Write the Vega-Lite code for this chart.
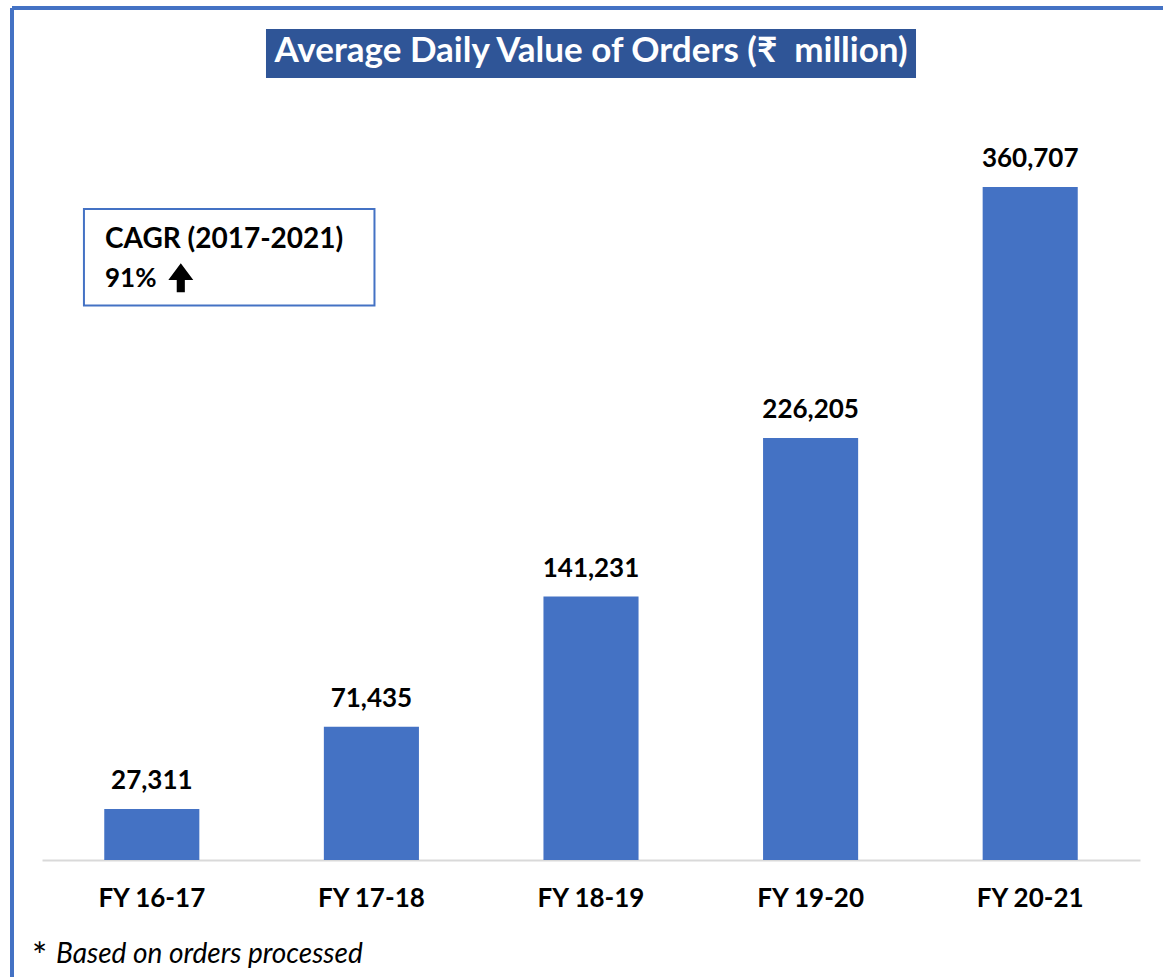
{
  "$schema": "https://vega.github.io/schema/vega-lite/v6.json",
  "width": 1098,
  "height": 860,
  "autosize": {"type": "none"},
  "padding": {"left": 42, "right": 23, "top": 0, "bottom": 117},
  "background": "white",
  "config": {"view": {"stroke": null}, "font": "Lato"},
  "resolve": {"scale": {"x": "independent", "y": "independent"}},
  "layer": [
    {
      "data": {"values": [
        {"year": "FY 16-17", "value": 27311},
        {"year": "FY 17-18", "value": 71435},
        {"year": "FY 18-19", "value": 141231},
        {"year": "FY 19-20", "value": 226205},
        {"year": "FY 20-21", "value": 360707}
      ]},
      "encoding": {
        "x": {"field": "year", "type": "nominal", "sort": null,
              "scale": {"paddingInner": 0.567, "paddingOuter": 0.2835},
              "axis": {"title": null, "ticks": false, "domainColor": "#d9d9d9", "domainWidth": 2,
                       "labelFont": "Lato", "labelFontSize": 26, "labelFontWeight": "bold", "labelColor": "#000000",
                       "labelPadding": 46, "labelBaseline": "alphabetic", "labelAngle": 0, "grid": false}},
        "y": {"field": "value", "type": "quantitative",
              "scale": {"domain": [0, 461000], "nice": false, "zero": false},
              "axis": null}
      },
      "layer": [
        {"mark": {"type": "bar", "color": "#4472C4"}},
        {"mark": {"type": "text", "baseline": "alphabetic", "dy": -20, "font": "Lato", "fontSize": 26, "fontWeight": "bold", "color": "#000000"},
         "encoding": {"text": {"field": "value", "type": "quantitative", "format": ","}}}
      ]
    },
    {
      "data": {"values": [{}]},
      "layer": [
        {"mark": {"type": "rect", "color": "#2F5597"},
         "encoding": {
           "x": {"datum": 1.02, "type": "quantitative", "scale": {"domain": [0, 5], "nice": false, "zero": false}, "axis": null},
           "x2": {"datum": 3.98},
           "y": {"datum": 445458, "type": "quantitative", "scale": {"domain": [0, 461000], "nice": false, "zero": false}, "axis": null},
           "y2": {"datum": 419191}
         }},
        {"mark": {"type": "text", "align": "center", "baseline": "alphabetic", "font": "Lato", "fontSize": 35, "fontWeight": "bold", "color": "white", "text": "Average Daily Value of Orders (₹\u00a0 million)"},
         "encoding": {
           "x": {"datum": 2.5, "type": "quantitative", "scale": {"domain": [0, 5], "nice": false, "zero": false}, "axis": null},
           "y": {"datum": 427500, "type": "quantitative", "scale": {"domain": [0, 461000], "nice": false, "zero": false}, "axis": null}
         }},
        {"mark": {"type": "rect", "fill": "white", "stroke": "#4472C4", "strokeWidth": 2},
         "encoding": {
           "x": {"datum": 0.191, "type": "quantitative", "scale": {"domain": [0, 5], "nice": false, "zero": false}, "axis": null},
           "x2": {"datum": 1.514},
           "y": {"datum": 348969, "type": "quantitative", "scale": {"domain": [0, 461000], "nice": false, "zero": false}, "axis": null},
           "y2": {"datum": 297240}
         }},
        {"mark": {"type": "text", "align": "left", "baseline": "alphabetic", "font": "Lato", "fontSize": 28, "fontWeight": "bold", "color": "#000000", "text": "CAGR (2017-2021)"},
         "encoding": {
           "x": {"datum": 0.287, "type": "quantitative", "scale": {"domain": [0, 5], "nice": false, "zero": false}, "axis": null},
           "y": {"datum": 327902, "type": "quantitative", "scale": {"domain": [0, 461000], "nice": false, "zero": false}, "axis": null}
         }},
        {"mark": {"type": "text", "align": "left", "baseline": "alphabetic", "font": "Lato", "fontSize": 26, "fontWeight": "bold", "color": "#000000", "text": "91%"},
         "encoding": {
           "x": {"datum": 0.287, "type": "quantitative", "scale": {"domain": [0, 5], "nice": false, "zero": false}, "axis": null},
           "y": {"datum": 307318, "type": "quantitative", "scale": {"domain": [0, 461000], "nice": false, "zero": false}, "axis": null}
         }},
        {"mark": {"type": "point", "filled": true, "color": "#000000", "opacity": 1, "size": 841,
                  "shape": "M0,-1L0.86,0.15L0.28,0.15L0.28,1L-0.28,1L-0.28,0.15L-0.86,0.15Z"},
         "encoding": {
           "x": {"datum": 0.632, "type": "quantitative", "scale": {"domain": [0, 5], "nice": false, "zero": false}, "axis": null},
           "y": {"datum": 312088, "type": "quantitative", "scale": {"domain": [0, 461000], "nice": false, "zero": false}, "axis": null}
         }},
        {"mark": {"type": "text", "align": "left", "baseline": "alphabetic", "font": "Lato", "fontSize": 36, "color": "#000000", "text": "*"},
         "encoding": {
           "x": {"datum": -0.045, "type": "quantitative", "scale": {"domain": [0, 5], "nice": false, "zero": false}, "axis": null},
           "y": {"datum": -58500, "type": "quantitative", "scale": {"domain": [0, 461000], "nice": false, "zero": false}, "axis": null}
         }},
        {"mark": {"type": "text", "align": "left", "baseline": "alphabetic", "font": "Lato", "fontSize": 28, "fontStyle": "italic", "color": "#000000", "text": "Based on orders processed"},
         "encoding": {
           "x": {"datum": 0.0638, "type": "quantitative", "scale": {"domain": [0, 5], "nice": false, "zero": false}, "axis": null},
           "y": {"datum": -54945, "type": "quantitative", "scale": {"domain": [0, 461000], "nice": false, "zero": false}, "axis": null}
         }},
        {"mark": {"type": "rule", "color": "#4472C4", "strokeWidth": 4},
         "encoding": {
           "x": {"datum": -0.1366, "type": "quantitative", "scale": {"domain": [0, 5], "nice": false, "zero": false}, "axis": null},
           "y": {"datum": 456715, "type": "quantitative", "scale": {"domain": [0, 461000], "nice": false, "zero": false}, "axis": null},
           "y2": {"datum": -62718}
         }},
        {"mark": {"type": "rule", "color": "#4472C4", "strokeWidth": 4},
         "encoding": {
           "x": {"datum": -0.1366, "type": "quantitative", "scale": {"domain": [0, 5], "nice": false, "zero": false}, "axis": null},
           "x2": {"datum": 5.105},
           "y": {"datum": 456715, "type": "quantitative", "scale": {"domain": [0, 461000], "nice": false, "zero": false}, "axis": null}
         }}
      ]
    }
  ]
}
